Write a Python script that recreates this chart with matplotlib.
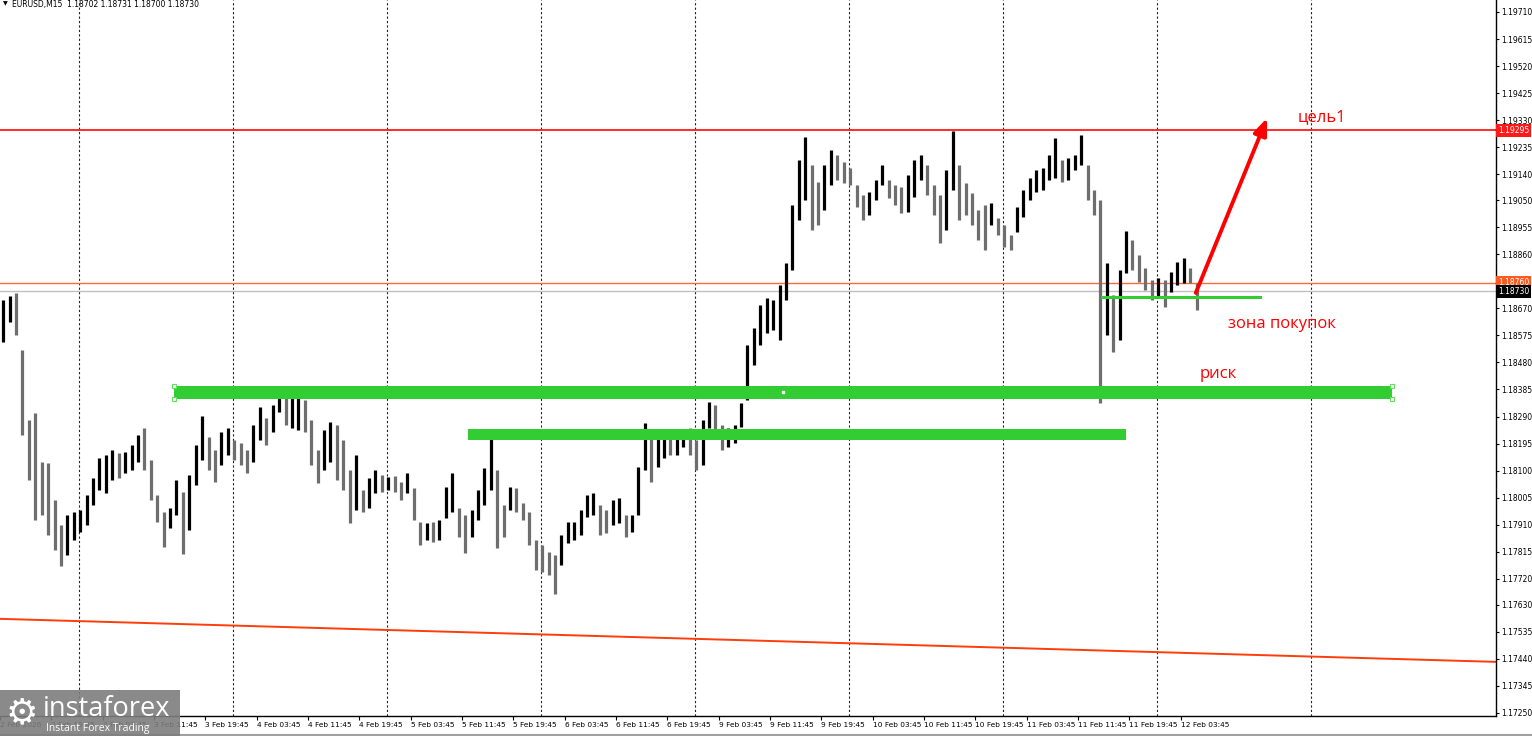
import numpy as np
import matplotlib.pyplot as plt
from matplotlib.patches import Rectangle
from matplotlib.lines import Line2D
import matplotlib.transforms as mtransforms

plt.rcParams['font.family'] = ['DejaVu Sans']

symbol = 'EURUSD,M15'
last_ohlc = ['1.18702', '1.18731', '1.18700', '1.18730']

# hourly highs / lows (one value per 4 M15 bars)
highs = [1.18699, 1.18713, 1.18724, 1.18524, 1.18278, 1.18302, 1.18130, 1.18127, 1.17997, 1.17909,
         1.17944, 1.17955, 1.17962, 1.18015, 1.18074, 1.18144, 1.18155, 1.18173, 1.18162, 1.18165,
         1.18190, 1.18225, 1.18250, 1.18137, 1.18015, 1.17955, 1.17969, 1.18067, 1.18025, 1.18085,
         1.18190, 1.18292, 1.18218, 1.18173, 1.18236, 1.18250, 1.18208, 1.18197, 1.18173, 1.18260,
         1.18323, 1.18285, 1.18330, 1.18366, 1.18355, 1.18373, 1.18386, 1.18348, 1.18278, 1.18173,
         1.18243, 1.18271, 1.18260, 1.18208, 1.18102, 1.18155, 1.18032, 1.18074, 1.18102, 1.18085,
         1.18078, 1.18081, 1.18060, 1.18092, 1.18039, 1.17920, 1.17916, 1.17920, 1.17927, 1.18043,
         1.18092, 1.17969, 1.17944, 1.17962, 1.18032, 1.18109, 1.18222, 1.18102, 1.17979, 1.18043,
         1.18039, 1.17986, 1.17955, 1.17857, 1.17839, 1.17815, 1.17804, 1.17874, 1.17920, 1.17920,
         1.17962, 1.18015, 1.18022, 1.17979, 1.17962, 1.17997, 1.18004, 1.17944, 1.17944, 1.18113,
         1.18267, 1.18225, 1.18218, 1.18236, 1.18218, 1.18225, 1.18243, 1.18250, 1.18208, 1.18278,
         1.18341, 1.18330, 1.18260, 1.18250, 1.18260, 1.18338, 1.18541, 1.18601, 1.18681, 1.18706,
         1.18699, 1.18752, 1.18829, 1.19032, 1.19190, 1.19271, 1.19173, 1.19113, 1.19173, 1.19226,
         1.19208, 1.19183, 1.19162, 1.19103, 1.19068, 1.19078, 1.19120, 1.19173, 1.19120, 1.19103,
         1.19096, 1.19138, 1.19190, 1.19208, 1.19173, 1.19103, 1.19068, 1.19155, 1.19292, 1.19173,
         1.19110, 1.19075, 1.19015, 1.19032, 1.19040, 1.18987, 1.18962, 1.18927, 1.19025, 1.19085,
         1.19127, 1.19155, 1.19162, 1.19208, 1.19268, 1.19190, 1.19197, 1.19208, 1.19278, 1.19173,
         1.19085, 1.19050, 1.18829, 1.18717, 1.18804, 1.18941, 1.18910, 1.18857, 1.18811, 1.18769,
         1.18776, 1.18769, 1.18797, 1.18832, 1.18846, 1.18811, 1.18759]
lows = [1.18552, 1.18622, 1.18576, 1.18225, 1.18067, 1.17927, 1.17944, 1.17874, 1.17822, 1.17765,
        1.17804, 1.17857, 1.17885, 1.17909, 1.17979, 1.18032, 1.18022, 1.18067, 1.18074, 1.18092,
        1.18102, 1.18130, 1.18102, 1.17997, 1.17920, 1.17832, 1.17899, 1.17944, 1.17808, 1.17892,
        1.18050, 1.18137, 1.18102, 1.18060, 1.18120, 1.18155, 1.18137, 1.18120, 1.18092, 1.18130,
        1.18208, 1.18190, 1.18236, 1.18306, 1.18260, 1.18250, 1.18243, 1.18236, 1.18120, 1.18057,
        1.18102, 1.18130, 1.18067, 1.18032, 1.17916, 1.17962, 1.17955, 1.17969, 1.18022, 1.18025,
        1.18032, 1.18025, 1.17997, 1.18022, 1.17927, 1.17839, 1.17857, 1.17850, 1.17857, 1.17934,
        1.17955, 1.17867, 1.17811, 1.17867, 1.17927, 1.17979, 1.18032, 1.17829, 1.17867, 1.17962,
        1.17955, 1.17927, 1.17839, 1.17751, 1.17744, 1.17734, 1.17667, 1.17769, 1.17846, 1.17857,
        1.17874, 1.17937, 1.17944, 1.17874, 1.17881, 1.17909, 1.17916, 1.17867, 1.17885, 1.17944,
        1.18102, 1.18060, 1.18113, 1.18144, 1.18155, 1.18155, 1.18183, 1.18155, 1.18102, 1.18120,
        1.18250, 1.18243, 1.18173, 1.18183, 1.18197, 1.18253, 1.18348, 1.18471, 1.18541, 1.18583,
        1.18594, 1.18559, 1.18699, 1.18804, 1.18980, 1.19050, 1.18945, 1.18962, 1.19015, 1.19103,
        1.19120, 1.19110, 1.19103, 1.19025, 1.18980, 1.18997, 1.19050, 1.19103, 1.19057, 1.19032,
        1.19004, 1.19008, 1.19061, 1.19120, 1.19068, 1.18997, 1.18899, 1.18945, 1.19085, 1.18980,
        1.18997, 1.18962, 1.18910, 1.18875, 1.18962, 1.18927, 1.18885, 1.18875, 1.18938, 1.18990,
        1.19050, 1.19078, 1.19085, 1.19120, 1.19127, 1.19113, 1.19120, 1.19155, 1.19173, 1.19050,
        1.18997, 1.18338, 1.18576, 1.18517, 1.18559, 1.18794, 1.18804, 1.18762, 1.18734, 1.18699,
        1.18706, 1.18674, 1.18727, 1.18752, 1.18759, 1.18759, 1.18664]

time_labels = ['2 Feb 2026', '2 Feb 19:45', '3 Feb 03:45', '3 Feb 11:45', '3 Feb 19:45',
               '4 Feb 03:45', '4 Feb 11:45', '4 Feb 19:45', '5 Feb 03:45', '5 Feb 11:45',
               '5 Feb 19:45', '6 Feb 03:45', '6 Feb 11:45', '6 Feb 19:45', '9 Feb 03:45',
               '9 Feb 11:45', '9 Feb 19:45', '10 Feb 03:45', '10 Feb 11:45', '10 Feb 19:45',
               '11 Feb 03:45', '11 Feb 11:45', '11 Feb 19:45', '12 Feb 03:45']

price_ticks = [1.19710, 1.19615, 1.19520, 1.19425, 1.19330, 1.19235, 1.19140, 1.19050, 1.18955,
               1.18860, 1.18670, 1.18575, 1.18480, 1.18385, 1.18290, 1.18195, 1.18100, 1.18005,
               1.17910, 1.17815, 1.17720, 1.17630, 1.17535, 1.17440, 1.17345, 1.17250]

target_price = 1.19295
level_price = 1.18760
bid_price = 1.18730

risk_zone = [1.18352, 1.18398]
mid_zone = [1.18208, 1.18246]
buy_zone = [1.18703, 1.18713]
trend_prices = [1.17580, 1.17429]

W, H = 1532, 736
fig = plt.figure(figsize=(W / 100, H / 100), dpi=100)
ax = fig.add_axes([0, 20 / H, 1496 / W, 1 - 20 / H])

n_view = 1496 / 1.604  # M15 bars visible across the plot
ax.set_xlim(0, n_view)
ax.set_ylim(1.17239, 1.19752)

# bars, drawn thick so the hourly ranges read like the dense M15 comb
xs = np.arange(len(highs)) * 4 + 2
mids = (np.array(highs) + np.array(lows)) / 2
cols = ['black' if i == 0 or mids[i] >= mids[i - 1] else '#6e6e6e' for i in range(len(mids))]
ax.vlines(xs, lows, highs, colors=cols, lw=2.3, zorder=3)

# day separators
for gx in np.arange(49.3, 830, 96):
    ax.axvline(gx, color='#222222', lw=0.8, ls=(0, (2, 2)), zorder=1)

# horizontal levels
ax.axhline(target_price, color='#ff1a1a', lw=1.3, zorder=2)
ax.axhline(level_price, color='#ff6a3a', lw=1.0, zorder=2)
ax.axhline(bid_price, color='#c0c0c0', lw=1.0, zorder=2)

# trend line at the bottom
ax.plot([0, n_view], trend_prices, color='#ff3c0a', lw=1.4, zorder=2)

# green zones
ax.add_patch(Rectangle((108.5, risk_zone[0]), 867.8 - 108.5, risk_zone[1] - risk_zone[0],
                       color='#32cd32', zorder=4, lw=0))
ax.add_patch(Rectangle((291.8, mid_zone[0]), 702.0 - 291.8, mid_zone[1] - mid_zone[0],
                       color='#32cd32', zorder=4, lw=0))
ax.add_patch(Rectangle((686.3, buy_zone[0]), 786.8 - 686.3, buy_zone[1] - buy_zone[0],
                       color='#32cd32', zorder=4, lw=0))
for hx in [108.5, 867.8]:
    for hy in risk_zone:
        ax.plot(hx, hy, marker='s', ms=3.5, mfc='white', mec='#5ee35e', mew=0.8, zorder=5)
ax.plot(488.2, sum(risk_zone) / 2, marker='s', ms=2, mfc='white', mec='white', zorder=5)

# arrow to target
ax.annotate('', xy=(790.0, 1.19338), xytext=(745.5, 1.18724),
            arrowprops=dict(arrowstyle='-|>,head_length=1.0,head_width=0.4', color='#ff0000',
                            lw=2.8, shrinkA=0, shrinkB=0), zorder=6)

ax.text(809.2, 1.19341, 'цель1', color='#ff0000', fontsize=12, family='Open Sans',
        va='center', ha='left', zorder=6)
ax.text(765.6, 1.18615, 'зона покупок', color='#ff0000', fontsize=12, family='Open Sans',
        va='center', ha='left', zorder=6)
ax.text(748.1, 1.18440, 'риск', color='#ff0000', fontsize=12, family='Open Sans',
        va='center', ha='left', zorder=6)

# axes look (MT4 style)
ax.spines['top'].set_visible(False)
ax.spines['left'].set_visible(False)
ax.spines['right'].set_linewidth(1.0)
ax.spines['bottom'].set_linewidth(1.0)
ax.yaxis.tick_right()
ax.set_yticks(price_ticks)
ax.set_yticklabels(['%.5f' % p for p in price_ticks])
ax.tick_params(axis='y', length=2, width=0.8, pad=2, labelsize=5.5)
ax.set_xticks([32 * j for j in range(len(time_labels))])
ax.set_xticklabels(time_labels)
for lbl in ax.get_xticklabels():
    lbl.set_ha('left')
ax.tick_params(axis='x', length=3, width=0.8, pad=1, labelsize=5.3)

# price boxes on the right axis
tr = mtransforms.blended_transform_factory(ax.transAxes, ax.transData)
for p, bg in [(target_price, '#ff1a1a'), (level_price, '#ff5a22'), (bid_price, 'black')]:
    ax.text(1.0015, p, '%.5f' % p, transform=tr, fontsize=5.5, color='white', va='center',
            ha='left', zorder=7, clip_on=False,
            bbox=dict(boxstyle='square,pad=0.25', fc=bg, ec='none'))

# header
fig.text(3 / W, 1 - 1 / H, '▼', fontsize=4.5, va='top', ha='left')
fig.text(12 / W, 1 - 0.5 / H, symbol + '  ' + ' '.join(last_ohlc), fontsize=5.5,
         va='top', ha='left')

# watermark
fig.patches.append(Rectangle((0, 0), 180 / W, 46 / H, transform=fig.transFigure,
                             fc='#7d7d7d', ec='none', alpha=0.9, zorder=10))
fig.text(22 / W, 23 / H, '⚙', fontsize=26, color='white', ha='center', va='center', zorder=11)
fig.text(43 / W, 27 / H, 'instaforex', fontsize=19.5, color='white', family='Open Sans',
         ha='left', va='center', zorder=11)
fig.text(46 / W, 7 / H, 'Instant Forex Trading', fontsize=7.5, color='white', family='Open Sans',
         ha='left', va='center', zorder=11)

# bottom window edge
fig.add_artist(Line2D([0, 1], [1.5 / H, 1.5 / H], color='#a0a0a0', lw=1.5))

fig.savefig('out.png', dpi=100, facecolor='white')
